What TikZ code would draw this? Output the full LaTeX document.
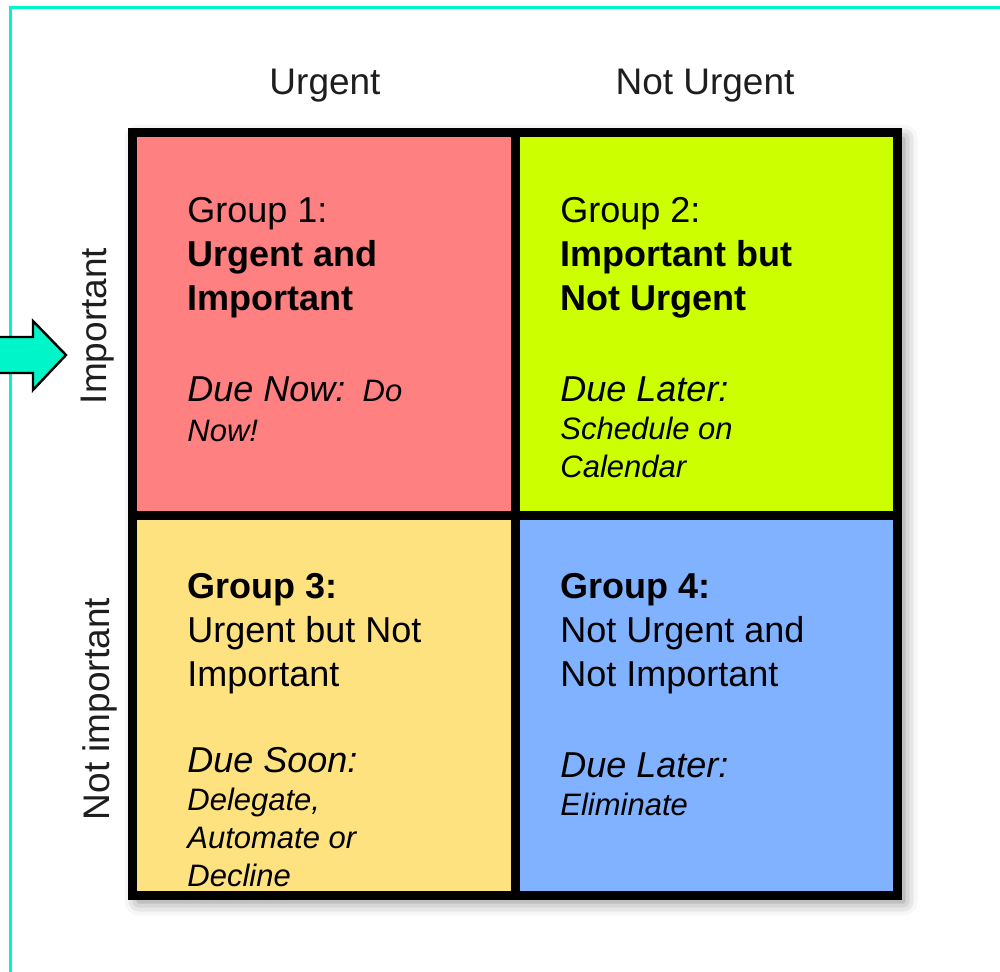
\documentclass[tikz,border=0pt]{standalone}
\usepackage{fontspec}
\setmainfont{Liberation Sans}
\usetikzlibrary{shadows.blur}

\definecolor{frameaqua}{RGB}{0,245,200}
\definecolor{cellred}{RGB}{255,128,128}
\definecolor{celllime}{RGB}{204,255,0}
\definecolor{cellsand}{RGB}{255,226,128}
\definecolor{cellblue}{RGB}{128,178,255}
\definecolor{headgray}{RGB}{30,30,30}

% multi-line nodes sit on the baseline of their last line
\tikzset{
  headlabel/.style={inner sep=0pt, text=headgray, font=\fontsize{18.5}{22}\selectfont},
  grouptext/.style={anchor=base west, align=left, inner sep=0pt, font=\fontsize{18}{22}\selectfont},
  duetext/.style={anchor=base west, align=left, inner sep=0pt, font=\fontsize{15.5}{19}\itshape\selectfont},
  gridline/.style={line width=4.5pt, line cap=rect}
}
\newcommand{\duehead}[1]{{\fontsize{18}{19}\selectfont #1}}

\begin{document}
\begin{tikzpicture}[x=0.5pt, y=-0.5pt]
  \useasboundingbox (0,0) rectangle (1000,972);

  % frame and pointer
  \draw[frameaqua, line width=1.75pt] (10.5,972) -- (10.5,7.5) -- (1000,7.5);
  \draw[fill=frameaqua, line width=1.2pt] (-5,337) -- (33,337) -- (33,321)
    -- (66,355) -- (33,390) -- (33,373) -- (-5,373);

  % the four quadrants
  \path[blur shadow={shadow xshift=3pt, shadow yshift=-3pt, shadow blur radius=7pt, shadow opacity=50}]
    (132.5,132.5) rectangle (897.5,895.5);
  \fill[cellred]  (132.5,132.5) rectangle (515.5,515);
  \fill[celllime] (515.5,132.5) rectangle (897.5,515);
  \fill[cellsand] (132.5,515) rectangle (515.5,895.5);
  \fill[cellblue] (515.5,515) rectangle (897.5,895.5);
  \draw[gridline] (132.5,132.5) rectangle (897.5,895.5);
  \draw[gridline] (515.5,132.5) -- (515.5,895.5);
  \draw[gridline] (132.5,515) -- (897.5,515);

  % axis labels
  \node[headlabel, anchor=base] (urg) at (325,95) {Urgent};
  \node[headlabel, anchor=base] (noturg) at (705,95) {Not Urgent};
  \node[headlabel, rotate=90] (imp) at (98,326) {Important};
  \node[headlabel, rotate=90] (notimp) at (100,709) {Not important};

  % group 1
  \node[grouptext] (g1) at (187,311) {Group 1:\\\textbf{Urgent and}\\\textbf{Important}};
  \node[duetext, font=\fontsize{15.5}{20}\itshape\selectfont] (g1due) at (187,442)
    {\duehead{Due Now:}\ \ Do\\Now!};

  % group 2
  \node[grouptext] (g2) at (560,311) {Group 2:\\\textbf{Important but}\\\textbf{Not Urgent}};
  \node[duetext] (g2due) at (560,478) {\duehead{Due Later:}\\Schedule on\\Calendar};

  % group 3
  \node[grouptext] (g3) at (187,686) {\textbf{Group 3:}\\Urgent but Not\\Important};
  \node[duetext] (g3due) at (187,886) {\duehead{Due Soon:}\\Delegate,\\Automate or\\Decline};

  % group 4
  \node[grouptext] (g4) at (560,686) {\textbf{Group 4:}\\Not Urgent and\\Not Important};
  \node[duetext] (g4due) at (560,815) {\duehead{Due Later:}\\Eliminate};
\end{tikzpicture}
\end{document}
